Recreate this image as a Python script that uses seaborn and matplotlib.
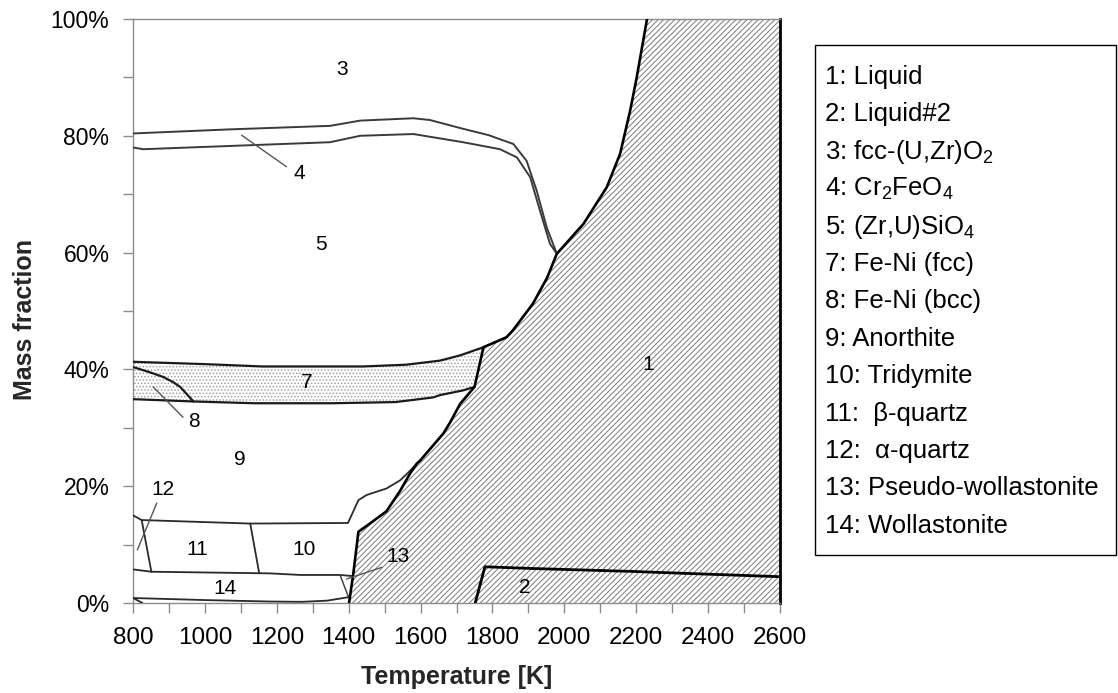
import matplotlib
matplotlib.use("Agg")
import matplotlib.pyplot as plt
from matplotlib.patches import Rectangle
from matplotlib.ticker import FuncFormatter, MultipleLocator
import seaborn as sns

# ---- phase boundaries: temperature [K] vs cumulative mass fraction [%] ----
# upper edge of the liquid phase (1)
liquid_T = [1401, 1413, 1427, 1459, 1505, 1543, 1571, 1590, 1599, 1663, 1682, 1710,
            1750, 1775, 1839, 1857, 1913, 1952, 1979, 2053, 2118, 2155,
            2183, 2201, 2230]
liquid_pct = [0.0, 5.1, 12.2, 13.6, 15.7, 19.2, 22.2, 23.9, 24.4, 29.0, 30.9, 34.1,
              37.0, 43.8, 45.5, 46.7, 51.3, 55.7, 59.8, 64.9, 71.2, 76.9,
              84.3, 89.9, 100.0]

# upper edge of the second liquid (2)
liquid2_T = [1752, 1779, 1913, 2191, 2322, 2461, 2600]
liquid2_pct = [0.0, 6.2, 5.9, 5.4, 5.1, 4.8, 4.5]

# fcc-(U,Zr)O2 (3) / Cr2FeO4 (4)
spinel_top_T = [800, 1070, 1348, 1432, 1580, 1626, 1718, 1790, 1821, 1858, 1895, 1923,
                1951, 1979]
spinel_top_pct = [80.4, 81.1, 81.7, 82.6, 83.0, 82.7, 81.2, 80.1, 79.4, 78.6, 75.7, 70.6,
                  64.3, 59.8]

# Cr2FeO4 (4) / (Zr,U)SiO4 (5)
zircon_top_T = [800, 828, 1348, 1432, 1580, 1718, 1821, 1868, 1905, 1932, 1960, 1979]
zircon_top_pct = [78.0, 77.7, 78.9, 80.0, 80.3, 78.9, 77.7, 76.3, 72.9, 67.2, 61.5, 59.8]

# (Zr,U)SiO4 (5) / Fe-Ni fcc (7)
feni_top_T = [800, 1000, 1160, 1440, 1560, 1654, 1710, 1775]
feni_top_pct = [41.3, 40.9, 40.5, 40.5, 40.8, 41.5, 42.4, 43.8]

# Fe-Ni (7, 8) / Anorthite (9)
feni_bottom_T = [800, 970, 1140, 1350, 1530, 1635, 1654, 1718, 1750]
feni_bottom_pct = [34.9, 34.5, 34.2, 34.2, 34.4, 35.2, 35.6, 36.4, 37.0]

# Fe-Ni bcc (8) / Fe-Ni fcc (7)
bcc_T = [800, 847, 884, 912, 931, 949, 968]
bcc_pct = [40.4, 39.5, 38.7, 37.8, 37.0, 35.8, 34.5]

# Anorthite (9) / silica phases (10, 11, 12)
silica_top_T = [800, 824, 1126, 1398, 1427, 1450, 1505, 1543, 1570, 1590]
silica_top_pct = [15.0, 14.2, 13.6, 13.7, 17.6, 18.5, 19.6, 21.0, 22.6, 23.9]

# silica phases / Wollastonite (14)
wollastonite_top_T = [800, 851, 1181, 1265, 1376, 1411]
wollastonite_top_pct = [5.75, 5.35, 5.07, 4.8, 4.8, 4.6]

# Wollastonite (14) lower edge
wollastonite_bottom_T = [800, 1000, 1180, 1270, 1340, 1380, 1401]
wollastonite_bottom_pct = [0.85, 0.5, 0.25, 0.2, 0.4, 0.8, 1.0]

# short transition segments
alpha_beta_T, alpha_beta_pct = [824, 851], [14.2, 5.35]          # 12 -> 11
beta_trid_T, beta_trid_pct = [1126, 1151], [13.6, 5.1]          # 11 -> 10
pseudo_T, pseudo_pct = [1376, 1400], [4.8, 0.9]                 # 14 -> 13
lowest_T, lowest_pct = [800, 826], [0.85, 0.0]

# ---- region numbers and leader lines ----
region_ids = ["1", "2", "3", "4", "5", "7", "8", "9", "10", "11", "12", "13", "14"]
region_T = [2233, 1891, 1381, 1262, 1323, 1284, 970, 1098, 1276, 978, 883, 1537, 1056]
region_pct = [40.9, 2.7, 91.3, 73.6, 61.3, 37.7, 31.0, 24.5, 9.2, 9.2, 19.5, 7.9, 2.4]

leader_T = [[1102, 1227], [856, 939], [866, 812], [1492, 1394]]
leader_pct = [[80.1, 74.7], [37.0, 31.8], [17.1, 9.1], [6.1, 4.1]]

legend_entries = [
    "1: Liquid", "2: Liquid#2", "3: fcc-(U,Zr)O$_2$", "4: Cr$_2$FeO$_4$",
    "5: (Zr,U)SiO$_4$", "7: Fe-Ni (fcc)", "8: Fe-Ni (bcc)", "9: Anorthite",
    "10: Tridymite", "11:  \u03b2-quartz", "12:  \u03b1-quartz",
    "13: Pseudo-wollastonite", "14: Wollastonite",
]

# ---- styling ----
sns.set_theme(style="white")
plt.rcParams.update({
    "font.family": ["Liberation Sans", "DejaVu Sans"],
    "mathtext.fontset": "custom",
    "mathtext.rm": "Liberation Sans",
    "mathtext.it": "Liberation Sans:italic",
    "mathtext.bf": "Liberation Sans:bold",
    "hatch.linewidth": 0.7,
})

fig = plt.figure(figsize=(11.18, 6.93), dpi=100)
ax = fig.add_axes([0.119, 0.1299, 0.5787, 0.8427])

# liquid area, hatched
ax.fill(liquid_T + [2600, 2600], liquid_pct + [100, 0], facecolor="white",
        edgecolor="#7a7a7a", hatch="//////", linewidth=0, zorder=1)
# Fe-Ni band, dotted
ax.fill(feni_top_T + feni_bottom_T[::-1], feni_top_pct + feni_bottom_pct[::-1],
        facecolor="white", edgecolor="#a0a0a0", hatch=".....", linewidth=0, zorder=1)


def boundary(T, pct, color="#2a2a2a", lw=1.3):
    sns.lineplot(x=T, y=pct, ax=ax, sort=False, estimator=None, color=color,
                 linewidth=lw, legend=False, zorder=3)


boundary(spinel_top_T, spinel_top_pct, "#3a3a3a", 1.4)
boundary(zircon_top_T, zircon_top_pct, "#3a3a3a", 1.4)
boundary(feni_top_T, feni_top_pct, "#1a1a1a", 1.6)
boundary(feni_bottom_T, feni_bottom_pct, "#1a1a1a", 1.6)
boundary(bcc_T, bcc_pct, "#1a1a1a", 1.6)
boundary(silica_top_T, silica_top_pct)
boundary(wollastonite_top_T, wollastonite_top_pct)
boundary(wollastonite_bottom_T, wollastonite_bottom_pct)
boundary(alpha_beta_T, alpha_beta_pct)
boundary(beta_trid_T, beta_trid_pct)
boundary(pseudo_T, pseudo_pct, "#444444", 1.1)
boundary(lowest_T, lowest_pct)
boundary(liquid_T, liquid_pct, "black", 1.9)
boundary(liquid2_T, liquid2_pct, "black", 2.0)

for lt, lp in zip(leader_T, leader_pct):
    boundary(lt, lp, "#555555", 1.0)

for rid, rt, rp in zip(region_ids, region_T, region_pct):
    ax.text(rt, rp, rid, ha="center", va="center", fontsize=15, color="black", zorder=4)

# ---- axes ----
ax.set_xlim(800, 2600)
ax.set_ylim(0, 100)
ax.xaxis.set_major_locator(MultipleLocator(200))
ax.xaxis.set_minor_locator(MultipleLocator(100))
ax.yaxis.set_major_locator(MultipleLocator(20))
ax.yaxis.set_minor_locator(MultipleLocator(10))
ax.yaxis.set_major_formatter(FuncFormatter(lambda v, p: f"{v:.0f}%"))
ax.tick_params(which="both", direction="out", length=7, width=1, color="#8c8c8c",
               bottom=True, left=True, labelcolor="black")
ax.tick_params(axis="x", which="major", pad=10, labelsize=17.5)
ax.tick_params(axis="y", which="major", pad=10, labelsize=16.5)
for side in ("left", "bottom", "top"):
    ax.spines[side].set_color("#8c8c8c")
    ax.spines[side].set_linewidth(1.0)
ax.spines["right"].set_color("black")
ax.spines["right"].set_linewidth(2.0)
ax.grid(False)

ax.set_xlabel("Temperature [K]", fontsize=18, fontweight="bold", labelpad=12)
ax.set_ylabel("Mass fraction", fontsize=18, fontweight="bold")
ax.yaxis.set_label_coords(-0.148, 0.486)

# ---- key box ----
fig.patches.append(Rectangle((815 / 1118, 1 - 555 / 693), 301 / 1118, 510 / 693,
                             transform=fig.transFigure, facecolor="white",
                             edgecolor="black", linewidth=1.0))
for i, entry in enumerate(legend_entries):
    fig.text(825 / 1118, 1 - (84 + 37.4 * i) / 693, entry, ha="left", va="baseline",
             fontsize=18.5, color="black")

fig.savefig("out.png", dpi=100)
